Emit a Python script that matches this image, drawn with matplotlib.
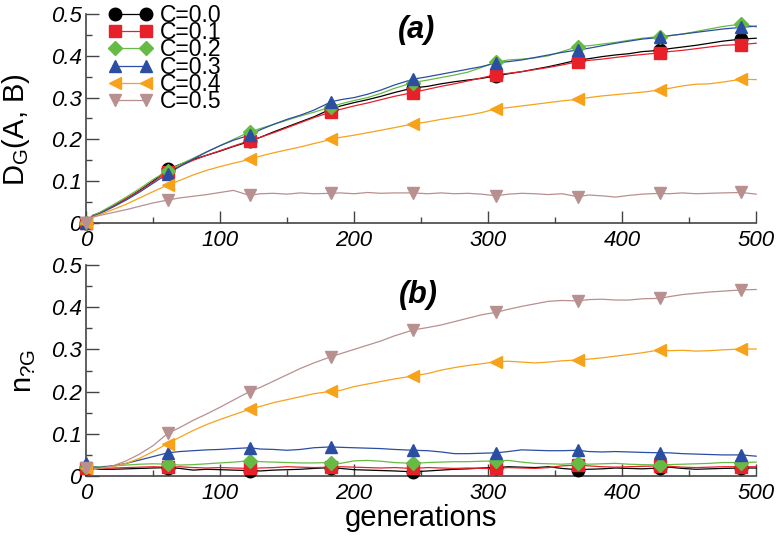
import matplotlib
matplotlib.use('Agg')
import matplotlib.pyplot as plt
from matplotlib.lines import Line2D
from matplotlib.ticker import MultipleLocator, FixedFormatter, FixedLocator

# generations at which values were read (marker points are included in the grid)
gens = [0, 5, 10, 20, 30, 40, 50,
        61, 70, 80, 90, 100, 110,
        122, 130, 140, 150, 160, 170,
        183, 190, 200, 210, 220, 230,
        244, 255, 265, 275, 285, 295,
        306, 315, 325, 335, 345, 355,
        367, 375, 385, 395, 405, 415,
        428, 435, 445, 455, 465, 475,
        489, 500]
mark_idx = [0, 7, 13, 19, 25, 31, 37, 43, 49]

labels = ['C=0.0', 'C=0.1', 'C=0.2', 'C=0.3', 'C=0.4', 'C=0.5']

# (a) D_G(A, B)
dg_00 = [0.0, 0.018, 0.024, 0.040, 0.058, 0.078, 0.100,
         0.128, 0.140, 0.152, 0.162, 0.172, 0.183,
         0.195, 0.205, 0.218, 0.230, 0.242, 0.254,
         0.273, 0.280, 0.288, 0.295, 0.303, 0.312,
         0.323, 0.327, 0.333, 0.338, 0.342, 0.346,
         0.352, 0.357, 0.362, 0.368, 0.374, 0.381,
         0.390, 0.393, 0.398, 0.402, 0.405, 0.410,
         0.413, 0.417, 0.421, 0.425, 0.430, 0.435,
         0.440, 0.442]
dg_01 = [0.0, 0.018, 0.024, 0.040, 0.058, 0.077, 0.098,
         0.123, 0.136, 0.150, 0.162, 0.173, 0.184,
         0.197, 0.205, 0.216, 0.228, 0.240, 0.252,
         0.266, 0.272, 0.280, 0.287, 0.295, 0.303,
         0.312, 0.320, 0.327, 0.333, 0.340, 0.347,
         0.355, 0.358, 0.362, 0.367, 0.372, 0.378,
         0.386, 0.389, 0.392, 0.396, 0.400, 0.403,
         0.407, 0.410, 0.413, 0.417, 0.421, 0.425,
         0.427, 0.430]
dg_02 = [0.0, 0.018, 0.025, 0.043, 0.062, 0.082, 0.104,
         0.125, 0.140, 0.155, 0.170, 0.185, 0.200,
         0.218, 0.226, 0.236, 0.246, 0.256, 0.265,
         0.278, 0.285, 0.293, 0.300, 0.310, 0.322,
         0.336, 0.342, 0.348, 0.354, 0.361, 0.372,
         0.385, 0.390, 0.392, 0.395, 0.400, 0.410,
         0.422, 0.424, 0.428, 0.432, 0.437, 0.442,
         0.446, 0.448, 0.452, 0.458, 0.464, 0.470,
         0.476, 0.469]
dg_03 = [0.0, 0.016, 0.022, 0.038, 0.055, 0.074, 0.095,
         0.118, 0.135, 0.153, 0.170, 0.185, 0.198,
         0.210, 0.223, 0.236, 0.248, 0.258, 0.270,
         0.290, 0.295, 0.300, 0.308, 0.318, 0.330,
         0.344, 0.350, 0.356, 0.362, 0.368, 0.374,
         0.383, 0.386, 0.390, 0.396, 0.402, 0.408,
         0.414, 0.418, 0.424, 0.430, 0.435, 0.440,
         0.444, 0.448, 0.452, 0.456, 0.460, 0.464,
         0.468, 0.471]
dg_04 = [0.0, 0.014, 0.020, 0.032, 0.045, 0.060, 0.075,
         0.091, 0.102, 0.115, 0.126, 0.135, 0.143,
         0.152, 0.160, 0.168, 0.175, 0.182, 0.190,
         0.200, 0.205, 0.210, 0.216, 0.222, 0.228,
         0.237, 0.242, 0.248, 0.253, 0.258, 0.264,
         0.273, 0.276, 0.280, 0.284, 0.288, 0.292,
         0.296, 0.300, 0.304, 0.307, 0.310, 0.313,
         0.318, 0.322, 0.328, 0.332, 0.333, 0.337,
         0.344, 0.343]
dg_05 = [0.0, 0.014, 0.018, 0.025, 0.032, 0.040, 0.048,
         0.055, 0.060, 0.064, 0.068, 0.073, 0.078,
         0.066, 0.070, 0.071, 0.069, 0.072, 0.070,
         0.071, 0.072, 0.070, 0.073, 0.071, 0.072,
         0.072, 0.070, 0.072, 0.070, 0.071, 0.069,
         0.065, 0.069, 0.071, 0.070, 0.068, 0.070,
         0.063, 0.067, 0.065, 0.062, 0.066, 0.069,
         0.071, 0.070, 0.072, 0.070, 0.071, 0.072,
         0.073, 0.069]

# (b) n_?G
n_00 = [0.020, 0.018, 0.016, 0.016, 0.017, 0.018, 0.019,
        0.020, 0.018, 0.014, 0.016, 0.015, 0.014,
        0.013, 0.012, 0.014, 0.015, 0.016, 0.018,
        0.020, 0.018, 0.015, 0.014, 0.013, 0.012,
        0.010, 0.012, 0.014, 0.016, 0.017, 0.019,
        0.020, 0.022, 0.021, 0.020, 0.022, 0.018,
        0.015, 0.016, 0.017, 0.019, 0.018, 0.017,
        0.019, 0.021, 0.018, 0.016, 0.017, 0.018,
        0.019, 0.019]
n_01 = [0.020, 0.019, 0.018, 0.019, 0.020, 0.021, 0.022,
        0.021, 0.022, 0.020, 0.019, 0.020, 0.019,
        0.018, 0.019, 0.020, 0.022, 0.021, 0.020,
        0.021, 0.022, 0.021, 0.020, 0.019, 0.020,
        0.018, 0.020, 0.019, 0.018, 0.019, 0.018,
        0.018, 0.020, 0.019, 0.018, 0.020, 0.024,
        0.026, 0.024, 0.022, 0.021, 0.022, 0.023,
        0.024, 0.023, 0.021, 0.020, 0.021, 0.022,
        0.022, 0.022]
n_02 = [0.022, 0.021, 0.022, 0.024, 0.026, 0.028, 0.029,
        0.028, 0.026, 0.027, 0.029, 0.031, 0.033,
        0.036, 0.034, 0.033, 0.032, 0.031, 0.031,
        0.032, 0.030, 0.036, 0.037, 0.035, 0.032,
        0.030, 0.032, 0.033, 0.034, 0.034, 0.035,
        0.036, 0.037, 0.033, 0.030, 0.029, 0.028,
        0.030, 0.028, 0.029, 0.030, 0.028, 0.027,
        0.026, 0.027, 0.028, 0.029, 0.030, 0.032,
        0.032, 0.033]
n_03 = [0.030, 0.022, 0.020, 0.024, 0.030, 0.038, 0.046,
        0.055, 0.058, 0.060, 0.062, 0.063, 0.065,
        0.067, 0.064, 0.063, 0.061, 0.063, 0.067,
        0.069, 0.068, 0.067, 0.066, 0.065, 0.063,
        0.061, 0.060, 0.057, 0.053, 0.053, 0.054,
        0.055, 0.058, 0.062, 0.061, 0.060, 0.060,
        0.061, 0.058, 0.057, 0.058, 0.057, 0.056,
        0.055, 0.055, 0.053, 0.052, 0.051, 0.050,
        0.050, 0.047]
n_04 = [0.020, 0.018, 0.018, 0.022, 0.030, 0.042, 0.058,
        0.077, 0.092, 0.108, 0.122, 0.134, 0.145,
        0.158, 0.165, 0.174, 0.181, 0.188, 0.195,
        0.201, 0.203, 0.212, 0.218, 0.224, 0.230,
        0.237, 0.243, 0.251, 0.257, 0.262, 0.266,
        0.271, 0.272, 0.270, 0.268, 0.270, 0.273,
        0.275, 0.277, 0.280, 0.284, 0.288, 0.292,
        0.299, 0.297, 0.298, 0.296, 0.297, 0.299,
        0.301, 0.301]
n_05 = [0.020, 0.018, 0.018, 0.024, 0.036, 0.052, 0.072,
        0.101, 0.115, 0.132, 0.147, 0.163, 0.180,
        0.200, 0.210, 0.225, 0.240, 0.255, 0.268,
        0.283, 0.290, 0.300, 0.310, 0.320, 0.332,
        0.346, 0.352, 0.358, 0.366, 0.374, 0.382,
        0.388, 0.395, 0.402, 0.408, 0.414, 0.416,
        0.415, 0.418, 0.419, 0.417, 0.417, 0.420,
        0.421, 0.425, 0.430, 0.433, 0.436, 0.438,
        0.441, 0.442]

colors = ['black', '#e8202a', '#66bb44', '#2b4ea2', '#f7a21b', '#b89090']
markers = ['o', 's', 'D', '^', '<', 'v']
msizes = [9, 8, 7, 9, 9, 9]

plt.rcParams['font.family'] = ['Liberation Sans', 'DejaVu Sans']
plt.rcParams['mathtext.default'] = 'regular'


def style_axes(ax):
    ax.set_xlim(0, 500)
    ax.set_ylim(0, 0.5)
    for side in ['top', 'right']:
        ax.spines[side].set_visible(False)
    for side in ['left', 'bottom']:
        ax.spines[side].set_color('#444444')
        ax.spines[side].set_linewidth(1.2)
    ax.xaxis.set_major_locator(MultipleLocator(100))
    ax.xaxis.set_minor_locator(MultipleLocator(50))
    ax.yaxis.set_major_locator(FixedLocator([0, 0.1, 0.2, 0.3, 0.4, 0.5]))
    ax.yaxis.set_major_formatter(FixedFormatter(['0', '0.1', '0.2', '0.3', '0.4', '0.5']))
    ax.yaxis.set_minor_locator(MultipleLocator(0.05))
    ax.tick_params(which='major', direction='in', length=9, width=1.0,
                   color='#444444', labelsize=16)
    ax.tick_params(which='minor', direction='in', length=4.5, width=1.0,
                   color='#444444')
    ax.tick_params(axis='x', which='major', pad=5)
    ax.tick_params(axis='y', which='major', pad=3)
    for t in ax.get_xticklabels() + ax.get_yticklabels():
        t.set_fontstyle('italic')


def draw_series(ax, series):
    for vals, c, m, ms in zip(series, colors, markers, msizes):
        ax.plot(gens, vals, color=c, lw=0.9, clip_on=False, zorder=3)
        ax.plot([gens[i] for i in mark_idx], [vals[i] for i in mark_idx],
                ls='none', color=c, marker=m, markersize=ms,
                clip_on=False, zorder=4)


fig = plt.figure(figsize=(7.82, 5.38), dpi=100)
ax1 = fig.add_axes([0.110, 0.5855, 0.857, 0.3885])
ax2 = fig.add_axes([0.110, 0.1152, 0.857, 0.3922])

draw_series(ax1, [dg_00, dg_01, dg_02, dg_03, dg_04, dg_05])
draw_series(ax2, [n_00, n_01, n_02, n_03, n_04, n_05])
style_axes(ax1)
style_axes(ax2)

ax1.set_ylabel(r'D$_G$(A, B)', fontsize=21)
ax1.yaxis.set_label_coords(-0.081, 0.445)
ax2.set_ylabel(r'n$_{?G}$', fontsize=21)
ax2.yaxis.set_label_coords(-0.072, 0.5)
ax2.set_xlabel('generations', fontsize=21, labelpad=0)

ax1.text(0.4925, 0.925, '(a)', transform=ax1.transAxes, fontsize=22,
         fontweight='bold', fontstyle='italic', ha='center', va='center')
ax2.text(0.496, 0.86, '(b)', transform=ax2.transAxes, fontsize=22,
         fontweight='bold', fontstyle='italic', ha='center', va='center')

# legend: line with a marker at each end
handles = [Line2D([], [], color=c, lw=0.9, marker=m, markersize=ms)
           for c, m, ms in zip(colors, markers, msizes)]
ax1.legend(handles, labels, loc='upper left', bbox_to_anchor=(0.033, 1.049),
           frameon=False, fontsize=16.5, numpoints=2, handlelength=1.95,
           handletextpad=0.3, labelspacing=-0.25, borderpad=0,
           borderaxespad=0)

fig.savefig('out.png', dpi=100)
